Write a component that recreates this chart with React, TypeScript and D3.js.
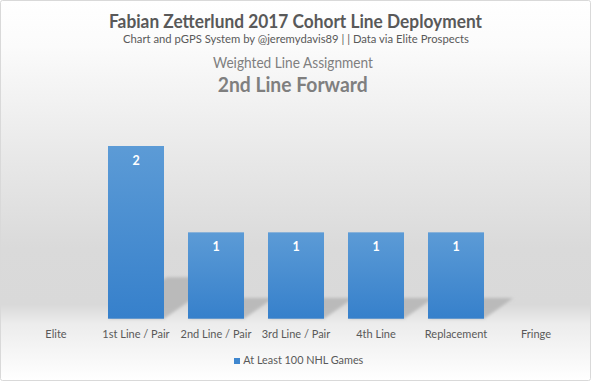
import React from "react";
import * as d3 from "d3";

const W = 591;
const H = 381;

const titleText = "Fabian Zetterlund 2017 Cohort Line Deployment";
const subtitleText = "Chart and pGPS System by @jeremydavis89 | | Data via Elite Prospects";
const headingText = "Weighted Line Assignment";
const assignmentText = "2nd Line Forward";
const seriesName = "At Least 100 NHL Games";

const categories = ["Elite", "1st Line / Pair", "2nd Line / Pair", "3rd Line / Pair", "4th Line", "Replacement", "Fringe"];
const values = [0, 2, 1, 1, 1, 1, 0];
const yMax = 2;

const FONT = "Lato, 'Open Sans', sans-serif";

export default function App() {
  const x = d3.scaleBand<string>().domain(categories).range([16, 576]).paddingInner(0.3).paddingOuter(0.15);
  const y = d3.scaleLinear().domain([0, yMax]).range([318.7, 146]);
  const base = y(0);

  return (
    <svg width={W} height={H} style={{ position: "absolute", left: 0, top: 0 }} xmlns="http://www.w3.org/2000/svg">
      <defs>
        <linearGradient id="bg" x1="0" y1="0" x2="0" y2="1">
          <stop offset="0" stopColor="#ffffff" />
          <stop offset="0.12" stopColor="#fbfbfb" />
          <stop offset="0.4" stopColor="#e9e9e9" />
          <stop offset="0.65" stopColor="#dadada" />
          <stop offset="0.8" stopColor="#d9d9d9" />
          <stop offset="0.85" stopColor="#ececec" />
          <stop offset="1" stopColor="#ffffff" />
        </linearGradient>
        <linearGradient id="bar" x1="0" y1="0" x2="0" y2="1">
          <stop offset="0" stopColor="#5c9bd6" />
          <stop offset="1" stopColor="#3680cb" />
        </linearGradient>
        <filter id="blur" x="-20%" y="-20%" width="140%" height="140%">
          <feGaussianBlur stdDeviation="1.8" />
        </filter>
      </defs>
      <rect x={0.5} y={0.5} width={W - 1} height={H - 1} fill="url(#bg)" stroke="#d9d9d9" strokeWidth={1} rx={2} />

      <text x={295.5} y={28.3} textAnchor="middle" fontFamily={FONT} fontWeight={700} fontSize={18.5} fill="#595959" textLength={373} lengthAdjust="spacingAndGlyphs">{titleText}</text>
      <text x={296} y={43} textAnchor="middle" fontFamily={FONT} fontSize={12} fill="#595959" textLength={346} lengthAdjust="spacingAndGlyphs">{subtitleText}</text>
      <text x={293} y={68.3} textAnchor="middle" fontFamily={FONT} fontSize={14.5} fill="#7f7f7f" textLength={160} lengthAdjust="spacingAndGlyphs">{headingText}</text>
      <text x={292.7} y={92.3} textAnchor="middle" fontFamily={FONT} fontWeight={700} fontSize={20} fill="#7f7f7f" textLength={150} lengthAdjust="spacingAndGlyphs">{assignmentText}</text>

      <g filter="url(#blur)">
        {categories.map((c, i) => {
          const v = values[i];
          if (v <= 0) return null;
          const h = base - y(v);
          const x0 = x(c)!;
          const x1 = x0 + x.bandwidth();
          const sh = h * 0.24;
          const dx = h * 0.34;
          const pts = [[x0, base], [x1, base], [x1 + dx, base - sh], [x0 + dx, base - sh]];
          return <polygon key={c} points={pts.map((p) => p.join(",")).join(" ")} fill="#adadad" opacity={0.7} />;
        })}
      </g>

      {categories.map((c, i) => {
        const v = values[i];
        if (v <= 0) return null;
        return (
          <g key={c}>
            <rect x={x(c)!} y={y(v)} width={x.bandwidth()} height={base - y(v)} fill="url(#bar)" />
            <text x={x(c)! + x.bandwidth() / 2} y={y(v) + 19} textAnchor="middle" fontFamily={FONT} fontWeight={700} fontSize={12.5} fill="#ffffff">{v}</text>
          </g>
        );
      })}

      {categories.map((c) => (
        <text key={c} x={x(c)! + x.bandwidth() / 2} y={338.3} textAnchor="middle" fontFamily={FONT} fontSize={11} fill="#595959">{c}</text>
      ))}

      <rect x={234} y={358} width={6} height={6} fill="#3f87cf" />
      <text x={243.3} y={364} fontFamily={FONT} fontSize={12} fill="#595959" textLength={120} lengthAdjust="spacingAndGlyphs">{seriesName}</text>
    </svg>
  );
}
